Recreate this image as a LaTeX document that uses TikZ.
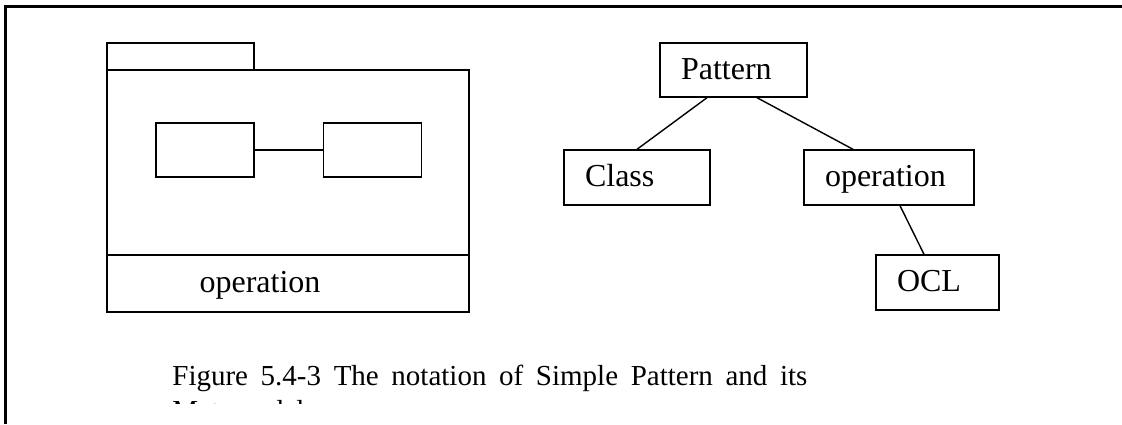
\documentclass[tikz,border=0pt]{standalone}
\usepackage{fontspec}
\setmainfont{Liberation Serif}
\tikzset{
  box/.style={draw, line width=0.7pt, inner xsep=10.5pt, inner ysep=0pt, align=left,
    text height=12pt, text depth=3pt, font=\fontsize{16}{18}\selectfont},
  part/.style={draw, line width=0.7pt, minimum width=49pt, minimum height=27pt, inner sep=0pt},
  link/.style={line width=0.7pt}
}
\begin{document}
\begin{tikzpicture}[x=0.5pt,y=-0.5pt]
\useasboundingbox (0,0) rectangle (1122,424);

\draw[line width=1.5pt] (5.5,424) -- (5.5,6.5) -- (1122,6.5);

% package with two classes
\draw[line width=0.7pt] (107,43) rectangle (254,70);
\draw[line width=0.7pt] (107,70) rectangle (469,312);
\draw[line width=0.7pt] (107,255) -- (469,255);
\node[anchor=base, font=\fontsize{16}{18}\selectfont] (pkgop) at (260,292) {operation};

\node[part] (cls1) at (205,150) {};
\node[part] (cls2) at (372.5,150) {};
\draw[link] (cls1) -- (cls2);

% metamodel
\node[box, text width=52.5pt, minimum height=27pt] (pattern) at (733.5,70) {Pattern};
\node[box, text width=52pt, minimum height=27.5pt] (class) at (637,177.5) {Class};
\node[box, text width=64pt, minimum height=27.5pt] (operation) at (889,177.5) {operation};
\node[box, text width=40.5pt, minimum height=27.5pt] (ocl) at (937.5,282.5) {OCL};

\draw[link] ([xshift=-13.25pt]pattern.south) -- (class.north);
\draw[link] ([xshift=11.75pt]pattern.south) -- ([xshift=-18pt]operation.north);
\draw[link] ([xshift=5.5pt]operation.south) -- ([xshift=-6.75pt]ocl.north);

\node[anchor=base west, inner sep=0pt, font=\fontsize{14.5}{17}\selectfont] (caption) at (172,385)
  {\makebox[317.5pt][s]{Figure 5.4-3 The notation of Simple Pattern and its}};
\begin{scope}
\clip (0,395) rectangle (1122,403);
\node[anchor=base west, inner sep=0pt, font=\fontsize{14.5}{17}\selectfont] (caption2) at (172,420) {Metamodel};
\end{scope}

\end{tikzpicture}
\end{document}
